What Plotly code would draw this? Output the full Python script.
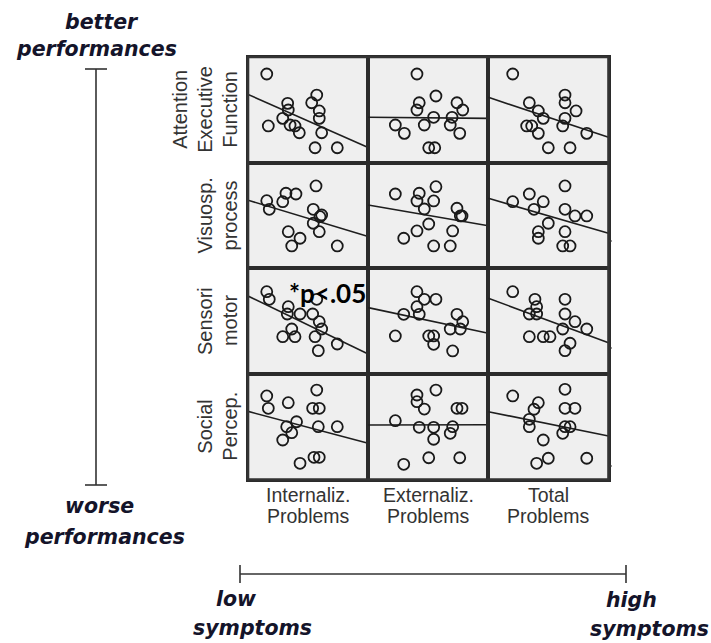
import plotly.graph_objects as go

W, H = 711, 643

# ---------------- data (panel units: 0-100 on both axes) ----------------
row_labels = [["Attention", "Executive", "Function"],
              ["Visuosp.", "process"],
              ["Sensori", "motor"],
              ["Social", "Percep."]]
col_labels = [["Internaliz.", "Problems"],
              ["Externaliz.", "Problems"],
              ["Total", "Problems"]]

# Row 1: Attention / Executive Function
aef_int_x = [15.6, 33.0, 33.5, 57.2, 53.0, 59.3, 28.9, 16.9, 35.0, 39.1, 42.7, 59.3, 61.3, 55.8, 74.3]
aef_int_y = [83.9, 56.1, 49.8, 64.0, 56.7, 48.9, 41.9, 34.7, 35.6, 34.7, 28.3, 41.9, 28.3, 14.1, 14.1]
aef_ext_x = [40.6, 56.4, 42.5, 40.6, 73.9, 78.7, 54.5, 69.8, 22.6, 46.7, 68.3, 30.1, 76.2, 50.4, 55.4]
aef_ext_y = [83.9, 63.1, 56.7, 49.8, 56.7, 49.8, 42.9, 42.9, 35.6, 35.6, 35.6, 27.7, 27.7, 14.1, 14.1]
aef_tot_x = [20.3, 63.8, 63.8, 34.1, 41.6, 73.0, 45.7, 63.8, 31.9, 36.1, 61.9, 41.6, 81.9, 49.9, 68.0]
aef_tot_y = [83.9, 64.0, 56.7, 56.7, 48.9, 48.9, 41.9, 41.9, 34.7, 34.7, 34.7, 27.7, 27.7, 14.1, 14.1]

# Row 2: Visuospatial processing
vis_int_x = [56.6, 31.6, 39.9, 15.6, 28.9, 17.7, 54.3, 61.3, 59.9, 54.3, 59.3, 33.5, 43.3, 36.4, 74.3]
vis_int_y = [77.9, 71.0, 70.3, 64.0, 63.0, 55.8, 55.8, 50.4, 48.8, 42.6, 34.6, 34.6, 28.4, 21.1, 21.1]
vis_ext_x = [56.4, 22.6, 42.5, 40.6, 54.5, 46.7, 73.9, 78.1, 76.7, 50.4, 40.6, 70.3, 29.6, 54.5, 68.3]
vis_ext_y = [77.2, 70.3, 71.0, 63.7, 63.7, 56.1, 56.8, 49.5, 49.5, 41.9, 35.3, 35.3, 28.4, 21.1, 21.1]
vis_tot_x = [63.8, 34.1, 20.3, 45.7, 38.0, 63.8, 72.1, 81.9, 49.9, 41.6, 63.8, 41.6, 61.9, 68.0]
vis_tot_y = [77.9, 70.3, 63.0, 63.0, 55.8, 55.8, 49.5, 49.5, 42.6, 34.6, 34.6, 28.4, 21.1, 21.1]

# Row 3: Sensorimotor
sen_int_x = [15.6, 17.7, 57.2, 33.5, 32.7, 43.3, 53.8, 59.3, 61.3, 36.4, 28.9, 39.1, 55.8, 74.3, 58.5]
sen_int_y = [77.8, 70.6, 70.6, 63.6, 56.7, 56.7, 56.7, 49.4, 42.5, 42.5, 35.2, 35.2, 35.2, 28.3, 22.0]
sen_ext_x = [40.6, 46.7, 56.4, 40.6, 29.6, 42.5, 73.9, 78.7, 68.3, 76.7, 22.6, 50.4, 54.5, 54.5, 70.3]
sen_ext_y = [77.8, 70.6, 70.6, 63.6, 56.4, 56.4, 56.4, 49.4, 42.5, 42.5, 35.9, 35.9, 35.9, 28.0, 21.7]
sen_tot_x = [20.3, 38.8, 63.8, 40.2, 34.1, 40.2, 63.8, 72.1, 81.9, 61.9, 34.1, 45.7, 51.3, 68.0, 63.8]
sen_tot_y = [77.8, 70.6, 70.6, 63.6, 56.7, 56.7, 56.7, 49.4, 42.5, 42.5, 35.2, 35.2, 35.2, 29.0, 22.0]

# Row 4: Social perception
soc_int_x = [57.2, 15.6, 33.5, 16.9, 53.8, 59.3, 40.4, 32.2, 58.5, 74.3, 36.4, 28.9, 43.3, 54.9, 59.3]
soc_int_y = [84.7, 79.1, 72.7, 67.4, 67.4, 67.4, 54.7, 50.0, 50.0, 50.0, 44.3, 37.4, 15.3, 21.0, 21.0]
soc_ext_x = [56.4, 40.6, 40.6, 46.7, 73.9, 78.1, 22.6, 42.5, 54.5, 70.3, 68.3, 54.5, 50.4, 76.2, 29.6]
soc_ext_y = [84.7, 80.0, 73.7, 66.7, 67.4, 67.4, 55.7, 49.4, 49.4, 50.0, 43.7, 38.1, 20.6, 20.6, 14.4]
soc_tot_x = [63.8, 20.3, 41.6, 38.0, 63.8, 72.1, 34.1, 34.1, 63.8, 68.0, 61.9, 45.7, 49.9, 81.9, 40.2]
soc_tot_y = [85.4, 79.1, 72.7, 66.5, 67.4, 67.4, 57.0, 50.0, 50.0, 50.0, 43.7, 37.4, 20.1, 20.1, 15.3]

# regression line value at left (x=0) and right (x=100) edge of each panel
line_left = [[64.6, 42.9, 61.8],
             [64.4, 59.9, 66.2],
             [73.7, 62.7, 71.6],
             [64.5, 51.6, 64.2]]
line_right = [[14.4, 41.9, 24.0],
              [30.1, 40.3, 33.1],
              [18.8, 38.4, 29.5],
              [34.4, 51.9, 41.2]]

panels_x = [[aef_int_x, aef_ext_x, aef_tot_x],
            [vis_int_x, vis_ext_x, vis_tot_x],
            [sen_int_x, sen_ext_x, sen_tot_x],
            [soc_int_x, soc_ext_x, soc_tot_x]]
panels_y = [[aef_int_y, aef_ext_y, aef_tot_y],
            [vis_int_y, vis_ext_y, vis_tot_y],
            [sen_int_y, sen_ext_y, sen_tot_y],
            [soc_int_y, soc_ext_y, soc_tot_y]]

# ---------------- layout geometry (pixels) ----------------
GL, GR, GT, GB = 248, 608.5, 57, 479.5
NR, NC = 4, 3
cw = (GR - GL) / NC
rh = (GB - GT) / NR


def px(x):
    return x / W


def py(y):
    return 1 - y / H


fig = go.Figure()
layout_axes = {}
k = 0
for r in range(NR):
    for c in range(NC):
        k += 1
        xa = "x" if k == 1 else f"x{k}"
        ya = "y" if k == 1 else f"y{k}"
        xname = "xaxis" if k == 1 else f"xaxis{k}"
        yname = "yaxis" if k == 1 else f"yaxis{k}"
        x0 = GL + c * cw
        y0 = GT + r * rh
        layout_axes[xname] = dict(domain=[px(x0), px(x0 + cw)], range=[0, 100],
                                  showgrid=False, zeroline=False, showticklabels=False,
                                  ticks="", showline=True, mirror=True,
                                  linecolor="#2b2b2b", linewidth=1.6, anchor=ya,
                                  fixedrange=True)
        layout_axes[yname] = dict(domain=[py(y0 + rh), py(y0)], range=[0, 100],
                                  showgrid=False, zeroline=False, showticklabels=False,
                                  ticks="", showline=True, mirror=True,
                                  linecolor="#2b2b2b", linewidth=1.6, anchor=xa,
                                  fixedrange=True)
        fig.add_trace(go.Scatter(
            x=[0, 100], y=[line_left[r][c], line_right[r][c]], mode="lines",
            line=dict(color="#1e1e1e", width=1.6), xaxis=xa, yaxis=ya,
            showlegend=False, hoverinfo="skip"))
        fig.add_trace(go.Scatter(
            x=panels_x[r][c], y=panels_y[r][c], mode="markers",
            marker=dict(symbol="circle-open", size=11, color="#1a1a1a",
                        line=dict(width=1.8, color="#1a1a1a")),
            xaxis=xa, yaxis=ya, showlegend=False))

annotations = []
label_font = dict(family="Liberation Sans, Arial, sans-serif", size=20, color="#333333")
col_font = dict(family="Liberation Sans, Arial, sans-serif", size=19.5, color="#333333")

# column labels (two separate lines for tight spacing)
for c, lines in enumerate(col_labels):
    cx = GL + (c + 0.5) * cw
    for i, t in enumerate(lines):
        annotations.append(dict(text=t, x=px(cx), y=py(494.5 + i * 21), xref="paper", yref="paper",
                                showarrow=False, font=col_font, xanchor="center", yanchor="middle",
                                borderpad=0))

# row labels (rotated)
line_x = [180, 205, 230]
for r, lines in enumerate(row_labels):
    cy = GT + (r + 0.5) * rh
    n = len(lines)
    for i, t in enumerate(lines):
        xpos = line_x[3 - n + i]
        annotations.append(dict(text=t, x=px(xpos), y=py(cy), xref="paper", yref="paper",
                                textangle=-90, showarrow=False, font=label_font,
                                xanchor="center", yanchor="middle", borderpad=0))

# significance mark
annotations.append(dict(text="<b>*p<.05</b>", x=px(327), y=py(293), xref="paper", yref="paper",
                        showarrow=False, xanchor="center", yanchor="middle", borderpad=0,
                        font=dict(family="Lato, Open Sans, sans-serif", size=26, color="#000000")))

side_font = dict(family="DejaVu Sans, sans-serif", size=20.5, color="#14142a")
side_texts = [("better", 102, 22), ("performances", 97, 49),
              ("worse", 99, 506), ("performances", 104, 537),
              ("low", 236, 599), ("symptoms", 252, 628),
              ("high", 631, 600), ("symptoms", 649, 629)]
for t, x, y in side_texts:
    annotations.append(dict(text=f"<b><i>{t}</i></b>", x=px(x), y=py(y), xref="paper", yref="paper",
                            showarrow=False, xanchor="center", yanchor="middle", font=side_font,
                            borderpad=0))

shapes = []
bar = dict(color="#333333", width=1.6)
# outer thick frame
shapes.append(dict(type="rect", xref="paper", yref="paper", x0=px(GL), x1=px(GR), y0=py(GB), y1=py(GT),
                   line=dict(color="#333333", width=2.6)))
# small minor ticks on the right frame
for ty in (241, 348, 466):
    shapes.append(dict(type="line", xref="paper", yref="paper", x0=px(GR), x1=px(GR + 3),
                       y0=py(ty), y1=py(ty), line=dict(color="#333333", width=2)))
# vertical performance bar
VX, VT, VB = 96, 69, 485
shapes.append(dict(type="line", xref="paper", yref="paper", x0=px(VX), x1=px(VX), y0=py(VT), y1=py(VB), line=bar))
shapes.append(dict(type="line", xref="paper", yref="paper", x0=px(VX - 11), x1=px(VX + 11), y0=py(VT), y1=py(VT), line=bar))
shapes.append(dict(type="line", xref="paper", yref="paper", x0=px(VX - 11), x1=px(VX + 11), y0=py(VB), y1=py(VB), line=bar))
# horizontal symptoms bar
HY, HL, HR = 574, 240, 626
shapes.append(dict(type="line", xref="paper", yref="paper", x0=px(HL), x1=px(HR), y0=py(HY), y1=py(HY), line=bar))
shapes.append(dict(type="line", xref="paper", yref="paper", x0=px(HL), x1=px(HL), y0=py(HY - 9), y1=py(HY + 9), line=bar))
shapes.append(dict(type="line", xref="paper", yref="paper", x0=px(HR), x1=px(HR), y0=py(HY - 9), y1=py(HY + 9), line=bar))

fig.update_layout(width=W, height=H, margin=dict(l=0, r=0, t=0, b=0),
                  paper_bgcolor="white", plot_bgcolor="#efefef",
                  annotations=annotations, shapes=shapes, showlegend=False,
                  **layout_axes)

fig.write_html("out.html", include_plotlyjs=True, config={"displayModeBar": False})
